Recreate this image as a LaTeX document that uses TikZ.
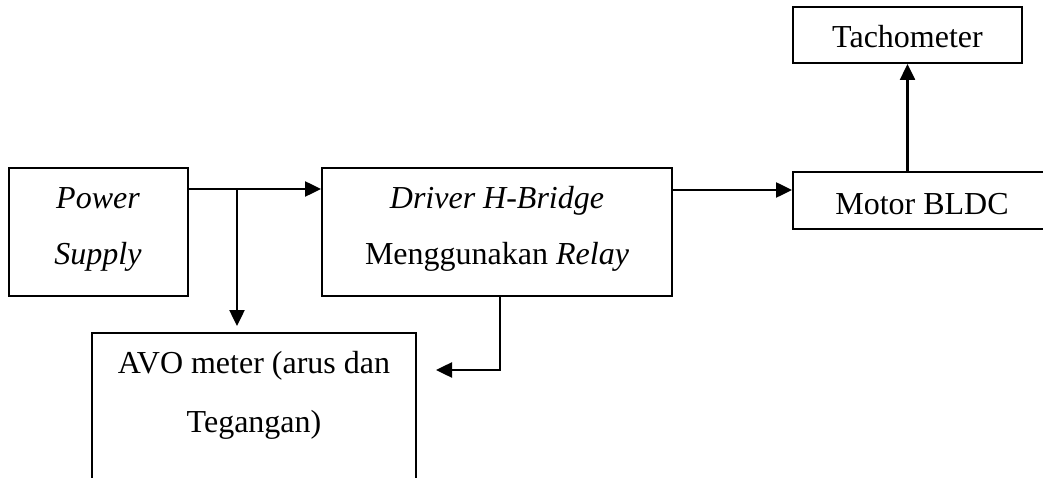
\documentclass[tikz,border=0pt]{standalone}
\usepackage{fontspec}
\setmainfont{Liberation Serif}
\usetikzlibrary{arrows.meta}
\begin{document}
\begin{tikzpicture}[x=1pt,y=1pt,
  box/.style={draw, line width=2pt, rectangle, inner sep=0pt, minimum width=#1},
  lbl/.style={anchor=base, inner sep=0pt, font=\fontsize{32}{38}\selectfont},
  arr/.style={line width=2.5pt, -{Triangle[length=16pt,width=15pt]}},
  ln/.style={line width=2.5pt}]
\useasboundingbox (0,0) rectangle (1043,-478);
\clip (0,0) rectangle (1043,-478);
% boxes
\node[box=179pt, minimum height=128pt] (ps) at (98.5,-232) {};
\node[box=350pt, minimum height=128pt] (drv) at (497,-232) {};
\node[box=258pt, minimum height=57pt] (mot) at (922,-200.5) {};
\node[box=229pt, minimum height=56pt] (tach) at (907.5,-35) {};
\node[box=324pt, minimum height=167pt] (avo) at (254,-416.5) {};
% texts
\node[lbl] (t1) at (98,-209) {\itshape Power};
\node[lbl] (t2) at (98,-264) {\itshape Supply};
\node[lbl] (t3) at (497,-209) {\itshape Driver H-Bridge};
\node[lbl] (t4) at (497,-265) {Menggunakan \textit{Relay}};
\node[lbl] (t5) at (907.5,-48) {Tachometer};
\node[lbl] (t6) at (922,-215) {Motor BLDC};
\node[lbl] (t7) at (254,-373) {AVO meter (arus dan};
\node[lbl] (t8) at (254,-432) {Tegangan)};
% connectors
\coordinate (br) at (237,-189);
\coordinate (m) at (500,-370);
\draw[arr] ([yshift=43pt]ps.east) -- ([yshift=43pt]ps.east -| drv.west);
\draw[arr, shorten >=6pt] (br) -- (br |- avo.north);
\draw[arr] ([yshift=42pt]drv.east) -- ([yshift=42pt]drv.east -| mot.west);
\draw[arr] (mot.north -| tach.south) -- (tach.south);
\draw[arr, shorten >=19pt] (m |- drv.south) -- (m) -- (m -| avo.east);
\end{tikzpicture}
\end{document}
